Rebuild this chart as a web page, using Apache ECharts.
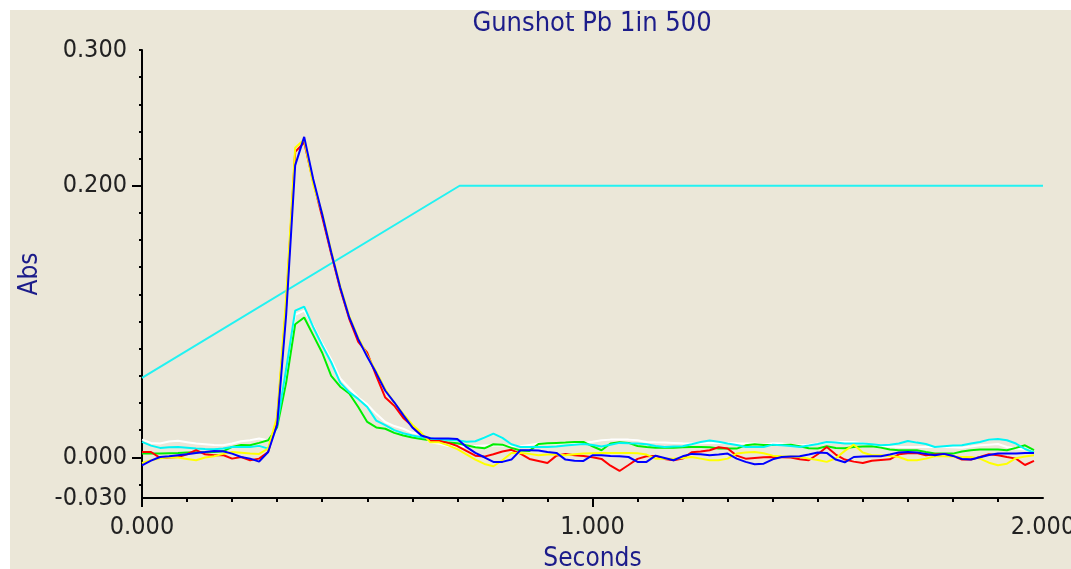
<!DOCTYPE html>
<html>
<head>
<meta charset="utf-8">
<title>Gunshot Pb 1in 500</title>
<script src="https://cdn.jsdelivr.net/npm/echarts/dist/echarts.min.js"></script>
<style>
  html, body { margin: 0; padding: 0; background: #ffffff; }
  #chart {
    position: absolute;
    left: 10px;
    top: 10px;
    width: 1061px;
    height: 559px;
    background-color: #ebe7d8;
  }
</style>
</head>
<body>
<div id="chart"></div>
<script>
// sampling step of the traces (seconds)
const dt = 0.02

// absorbance traces, one value per sample, from t = 0 to 1.98 s
const redAbs = [
  0.0039, 0.0039, -0.0005, -0.0002, 0.0002, 0.0022, 0.0052, 0.0022, 0.0015, 0.0017,
  -0.001, 0.0002, -0.0022, -0.001, 0.0039, 0.028, 0.112, 0.225, 0.232, 0.203,
  0.177, 0.150, 0.124, 0.102, 0.085, 0.077, 0.060, 0.044, 0.038, 0.029,
  0.023, 0.017, 0.012, 0.012, 0.0106, 0.0083, 0.0047, 0.0012, 0.0005, 0.0022,
  0.0042, 0.0055, 0.0027, -0.0012, -0.0027, -0.0042, 0.0012, 0.0025, 0.0015, 0.001,
  0, -0.0012, -0.0062, -0.0101, -0.0057, -0.0012, 0.0007, 0.001, -0.0012, -0.0022,
  -0.001, 0.0037, 0.0042, 0.0052, 0.0074, 0.0064, 0.0012, -0.001, -0.0005, 0,
  0.0002, 0, -0.0002, -0.0015, -0.0022, 0.0022, 0.0076, 0.002, -0.0017, -0.0032,
  -0.0042, -0.0025, -0.002, -0.0015, 0.0022, 0.003, 0.0032, 0.0015, 0.002, 0.0025,
  0.001, -0.0017, -0.0017, 0.0002, 0.0022, 0.0015, 0.0002, -0.001, -0.0057, -0.0027
]
const blueAbs = [
  -0.0059, -0.0025, 0.0002, 0.0007, 0.0015, 0.0022, 0.0032, 0.0039, 0.0047, 0.0044,
  0.0027, 0.0002, -0.001, -0.0032, 0.0039, 0.024, 0.105, 0.215, 0.236, 0.205,
  0.179, 0.151, 0.125, 0.103, 0.087, 0.074, 0.062, 0.049, 0.0405, 0.031,
  0.022, 0.016, 0.014, 0.0138, 0.0138, 0.0135, 0.0076, 0.0032, 0, -0.0034,
  -0.0034, -0.0017, 0.0052, 0.0052, 0.005, 0.0039, 0.0032, -0.0017, -0.0025, -0.0027,
  0.0015, 0.0015, 0.001, 0.0007, 0.0002, -0.0034, -0.0034, 0.0012, -0.0005, -0.0022,
  0.0007, 0.0025, 0.0022, 0.0015, 0.002, 0.0027, -0.001, -0.0034, -0.0052, -0.0047,
  -0.0015, 0.0002, 0.0005, 0.0007, 0.002, 0.0035, 0.0032, -0.0017, -0.0037, 0.0002,
  0.0005, 0.0007, 0.0007, 0.002, 0.0035, 0.0039, 0.0035, 0.0025, 0.0015, 0.0025,
  0.001, -0.0012, -0.0017, 0, 0.0017, 0.0027, 0.0027, 0.0027, 0.0032, 0.0032
]
const yellowAbs = [
  -0.0042, -0.0022, -0.0007, 0, -0.0002, -0.0012, -0.0022, -0.0002, 0.0007, 0.0025,
  0.0039, 0.0034, 0.0027, 0.0025, 0.0064, 0.030, 0.118, 0.228, 0.234, 0.201,
  0.180, 0.152, 0.126, 0.104, 0.088, 0.075, 0.063, 0.050, 0.040, 0.032,
  0.024, 0.018, 0.011, 0.011, 0.0088, 0.006, 0.0022, -0.0017, -0.0049, -0.0066,
  -0.0022, 0.0032, 0.0032, 0.0025, 0.0015, 0.002, 0.002, 0.0015, 0.0022, 0.0027,
  0.003, 0.0032, 0.0032, 0.0032, 0.0032, 0.003, 0.002, -0.001, -0.001, -0.001,
  -0.0005, 0.0002, -0.001, -0.0022, -0.0022, -0.001, 0.0027, 0.0035, 0.0039, 0.003,
  0.0012, 0.0007, 0.0005, 0.0002, -0.001, -0.002, -0.0034, -0.0007, 0.0047, 0.0093,
  0.0035, 0.0015, 0.0015, 0.001, 0.0002, -0.0022, -0.0022, -0.001, 0.0007, 0.0007,
  0.0005, 0.0002, 0.0002, -0.001, -0.004, -0.0059, -0.0047, -0.0007, 0.0005, 0.0015
]
const greenAbs = [
  0.0027, 0.0027, 0.0027, 0.003, 0.0032, 0.0035, 0.0037, 0.0037, 0.0039, 0.0044,
  0.0076, 0.0091, 0.0088, 0.0106, 0.0125, 0.022, 0.055, 0.098, 0.103, 0.090,
  0.077, 0.060, 0.052, 0.047, 0.037, 0.026, 0.022, 0.021, 0.018, 0.016,
  0.0145, 0.0135, 0.0125, 0.012, 0.0108, 0.0103, 0.0088, 0.0074, 0.0066, 0.0096,
  0.0093, 0.0069, 0.005, 0.0047, 0.0098, 0.0103, 0.0106, 0.0108, 0.0113, 0.0113,
  0.0081, 0.0052, 0.0101, 0.011, 0.0106, 0.0083, 0.0076, 0.0071, 0.0071, 0.0071,
  0.0074, 0.0076, 0.0076, 0.0074, 0.0064, 0.0064, 0.0064, 0.0088, 0.0096, 0.0091,
  0.0091, 0.0091, 0.0093, 0.0081, 0.0066, 0.0064, 0.0081, 0.0069, 0.0066, 0.0076,
  0.0079, 0.0081, 0.0071, 0.0057, 0.0052, 0.0052, 0.0052, 0.0039, 0.0027, 0.0027,
  0.0027, 0.0042, 0.0052, 0.0057, 0.0057, 0.0057, 0.0052, 0.0069, 0.0088, 0.0052
]
const cyanAbs = [
  0.0113, 0.0086, 0.0069, 0.0074, 0.0076, 0.0071, 0.0064, 0.0061, 0.0059, 0.0064,
  0.0076, 0.0076, 0.0076, 0.0084, 0.0064, 0.024, 0.065, 0.108, 0.111, 0.096,
  0.0825, 0.070, 0.055, 0.048, 0.043, 0.037, 0.027, 0.0236, 0.020, 0.0177,
  0.016, 0.0147, 0.014, 0.013, 0.0128, 0.0125, 0.0115, 0.0118, 0.0145, 0.0174,
  0.0143, 0.0096, 0.0076, 0.0076, 0.0076, 0.0076, 0.0079, 0.0086, 0.0093, 0.0098,
  0.0091, 0.0079, 0.0093, 0.0106, 0.0103, 0.0101, 0.0096, 0.0083, 0.0076, 0.0079,
  0.0081, 0.0096, 0.0113, 0.0123, 0.0115, 0.0101, 0.0091, 0.0076, 0.0076, 0.0076,
  0.0093, 0.0088, 0.0083, 0.0076, 0.0086, 0.0098, 0.0113, 0.0108, 0.0101, 0.0101,
  0.0101, 0.0096, 0.0088, 0.0093, 0.0101, 0.012, 0.0108, 0.0098, 0.0076, 0.0081,
  0.0086, 0.0088, 0.0101, 0.0113, 0.013, 0.0135, 0.0125, 0.0101, 0.0061, 0.0035
]
const whiteAbs = [
  0.013, 0.0106, 0.0101, 0.0116, 0.0121, 0.0111, 0.0101, 0.0096, 0.0091, 0.0089,
  0.0101, 0.0118, 0.0125, 0.0138, 0.0125, 0.022, 0.060, 0.105, 0.108, 0.097,
  0.084, 0.072, 0.058, 0.051, 0.044, 0.039, 0.032, 0.026, 0.023, 0.021,
  0.018, 0.017, 0.011, 0.010, 0.0083, 0.0079, 0.0079, 0.0083, 0.0086, 0.0088,
  0.0086, 0.0083, 0.0081, 0.0091, 0.0101, 0.0101, 0.0101, 0.0103, 0.0106, 0.0106,
  0.0115, 0.0125, 0.013, 0.013, 0.013, 0.0125, 0.0113, 0.011, 0.0108, 0.0106,
  0.0103, 0.0101, 0.0103, 0.0106, 0.0106, 0.0106, 0.0103, 0.0101, 0.0101, 0.0093,
  0.0103, 0.0101, 0.0093, 0.0088, 0.0093, 0.0101, 0.0106, 0.011, 0.0113, 0.0113,
  0.0103, 0.0091, 0.0083, 0.0079, 0.0076, 0.0076, 0.0076, 0.0076, 0.0076, 0.0076,
  0.0074, 0.0071, 0.0079, 0.0088, 0.0093, 0.0098, 0.0076, 0.0064, 0.0057, 0.0052
]

// temperature ramp drawn in the same scale (straight segments)
const rampTime = [0, 0.705, 2.0]
const rampAbs = [0.0585, 0.2, 0.2]

// axis ticks and labels
const yLabelValues = [-0.03, 0, 0.2, 0.3]
const yMinorTicks = [-0.02, 0.02, 0.04, 0.06, 0.08, 0.1, 0.12, 0.14, 0.16, 0.18,
  0.22, 0.24, 0.26, 0.28, 0.3]
const yMajorTicks = [0, 0.2]
const xLabelValues = [0, 1, 2]
const xMinorTicks = [0.1, 0.2, 0.3, 0.4, 0.5, 0.6, 0.7, 0.8, 0.9, 1.1, 1.2, 1.3,
  1.4, 1.5, 1.6, 1.7, 1.8, 1.9]
const xMajorTicks = [0, 1]

const navy = '#1c1c8a'
const tickFont = '"DejaVu Sans Condensed", "Liberation Sans", sans-serif'
const nameFont = '"DejaVu Sans Condensed", "Liberation Sans", sans-serif'

function pairs (values) {
  return values.map((v, i) => [+(i * dt).toFixed(2), v])
}

function trace (values, color) {
  return {
    type: 'line',
    data: pairs(values),
    showSymbol: false,
    symbol: 'none',
    lineStyle: { color: color, width: 2 },
    itemStyle: { color: color },
    animation: false
  }
}

const chart = echarts.init(document.getElementById('chart'))
const option = {
  animation: false,
  title: {
    text: 'Gunshot Pb 1in 500',
    left: 582,
    top: 0,
    textAlign: 'center',
    padding: 0,
    textStyle: { color: navy, fontFamily: nameFont, fontSize: 27, fontWeight: 'normal' }
  },
  grid: { left: 132, right: 28, top: 40, bottom: 71, containLabel: false, outerBoundsMode: 'none' },
  xAxis: [
    {
      type: 'value',
      min: 0,
      max: 2,
      name: 'Seconds',
      nameLocation: 'middle',
      nameGap: 48,
      nameTextStyle: { color: navy, fontFamily: nameFont, fontSize: 26 },
      axisLine: { show: true, onZero: false, lineStyle: { color: '#000', width: 2 } },
      axisTick: { show: true, customValues: xMinorTicks, length: 4, lineStyle: { color: '#000', width: 2 } },
      axisLabel: {
        customValues: xLabelValues,
        formatter: v => v.toFixed(3),
        color: '#222',
        fontFamily: tickFont,
        fontSize: 25,
        margin: 17
      },
      splitLine: { show: false }
    },
    {
      // longer ticks at 0 and 1 s
      type: 'value',
      min: 0,
      max: 2,
      position: 'bottom',
      axisLine: { show: false, onZero: false },
      axisTick: { show: true, customValues: xMajorTicks, length: 9, lineStyle: { color: '#000', width: 2 } },
      axisLabel: { show: false },
      splitLine: { show: false }
    }
  ],
  yAxis: [
    {
      type: 'value',
      min: -0.03,
      max: 0.3,
      name: 'Abs',
      nameLocation: 'middle',
      nameRotate: 90,
      nameGap: 98,
      nameTextStyle: { color: navy, fontFamily: nameFont, fontSize: 26 },
      axisLine: { show: true, onZero: false, lineStyle: { color: '#000', width: 2 } },
      axisTick: { show: true, customValues: yMinorTicks, length: 3, lineStyle: { color: '#000', width: 2 } },
      axisLabel: {
        customValues: yLabelValues,
        formatter: v => v.toFixed(3),
        color: '#222',
        fontFamily: tickFont,
        fontSize: 25,
        margin: 15
      },
      splitLine: { show: false }
    },
    {
      // longer ticks at 0 and 0.2
      type: 'value',
      min: -0.03,
      max: 0.3,
      position: 'left',
      axisLine: { show: false, onZero: false },
      axisTick: { show: true, customValues: yMajorTicks, length: 10, lineStyle: { color: '#000', width: 2 } },
      axisLabel: { show: false },
      splitLine: { show: false }
    }
  ],
  series: [
    {
      type: 'line',
      data: rampTime.map((t, i) => [t, rampAbs[i]]),
      showSymbol: false,
      symbol: 'none',
      lineStyle: { color: '#22f2f2', width: 2 },
      animation: false
    },
    trace(whiteAbs, '#ffffff'),
    trace(greenAbs, '#00ee00'),
    trace(cyanAbs, '#00f6f6'),
    trace(redAbs, '#ff0000'),
    trace(yellowAbs, '#ffff00'),
    trace(blueAbs, '#0000ff')
  ]
}
chart.setOption(option)
window.addEventListener('resize', () => {
  chart.resize()
})
</script>
</body>
</html>
